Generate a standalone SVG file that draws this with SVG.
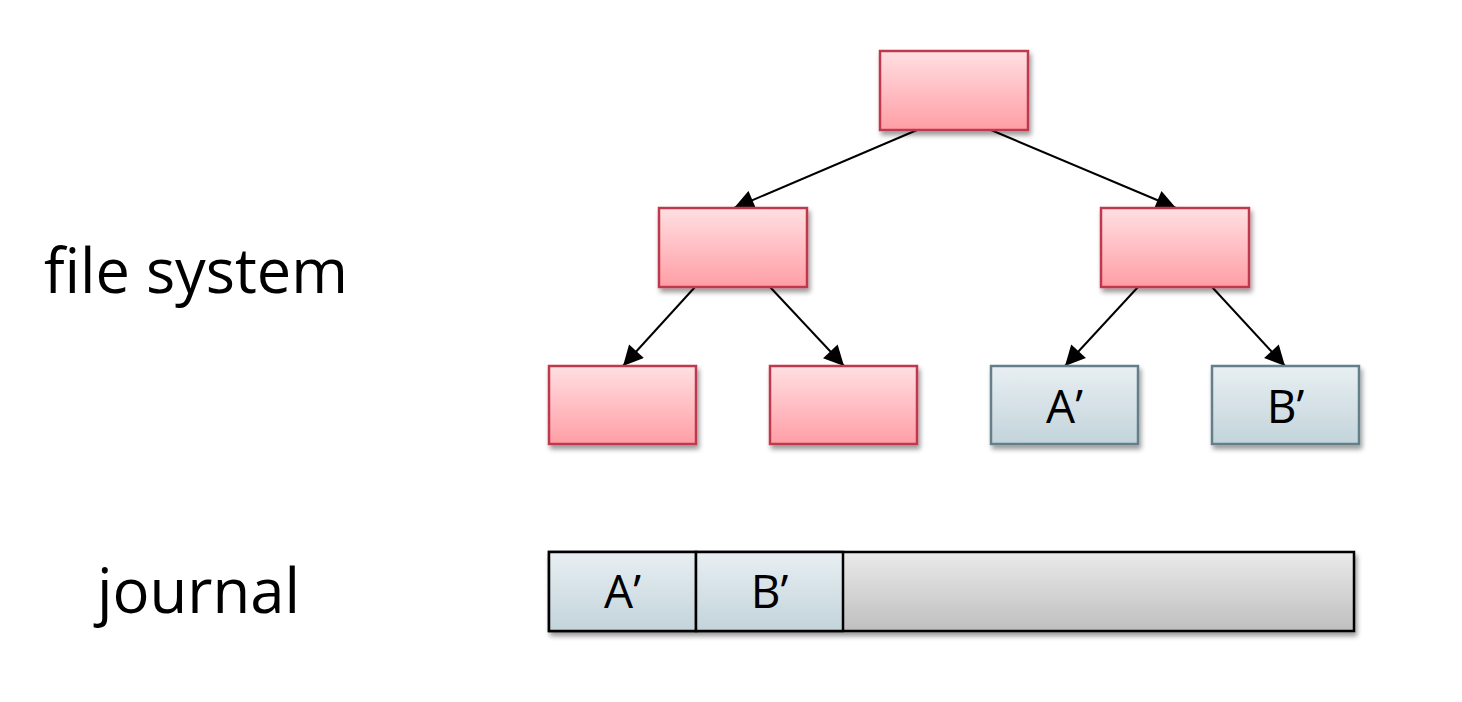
<svg xmlns="http://www.w3.org/2000/svg" width="1462" height="702" viewBox="0 0 1462 702">
<style>
.red{fill:url(#gr);stroke:#c0394d;stroke-width:2.5;filter:url(#sh)}
.blue{fill:url(#gb);stroke:#637f89;stroke-width:2.5;filter:url(#sh)}
.jb{fill:url(#gb);stroke:#000;stroke-width:2.5}
.lbl{font-family:"Open Sans","Liberation Sans",sans-serif;font-size:46px;fill:#000;text-anchor:middle}
.big{font-family:"Open Sans","Liberation Sans",sans-serif;font-size:62px;fill:#000}
.con line{stroke:#000;stroke-width:2}
</style>
<defs>
<linearGradient id="gr" x1="0" y1="0" x2="0" y2="1"><stop offset="0" stop-color="#ffdfe2"/><stop offset="1" stop-color="#ff9ea5"/></linearGradient>
<linearGradient id="gb" x1="0" y1="0" x2="0" y2="1"><stop offset="0" stop-color="#e8eff2"/><stop offset="1" stop-color="#c3d4db"/></linearGradient>
<linearGradient id="gg" x1="0" y1="0" x2="0" y2="1"><stop offset="0" stop-color="#eaeaea"/><stop offset="1" stop-color="#bfbfbf"/></linearGradient>
<filter id="sh" x="-10%" y="-10%" width="130%" height="140%"><feGaussianBlur in="SourceAlpha" stdDeviation="2.5"/><feOffset dx="2" dy="4" result="b"/><feComponentTransfer><feFuncA type="linear" slope="0.4"/></feComponentTransfer><feMerge><feMergeNode/><feMergeNode in="SourceGraphic"/></feMerge></filter>
<marker id="ahb" viewBox="0 0 10 10" refX="10" refY="5" markerWidth="22" markerHeight="20" markerUnits="userSpaceOnUse" orient="auto"><path d="M0,0L10,5L0,10z" fill="#000"/></marker>
</defs>
<rect width="1462" height="702" fill="#fff"/>
<text class="big" x="44" y="293" textLength="304" lengthAdjust="spacingAndGlyphs">file system</text>
<text class="big" x="97" y="613" textLength="203" lengthAdjust="spacingAndGlyphs">journal</text>
<g class="con">
<line x1="917" y1="130" x2="734" y2="208" marker-end="url(#ahb)"/>
<line x1="991" y1="130" x2="1176" y2="208" marker-end="url(#ahb)"/>
<line x1="695" y1="287" x2="623" y2="366" marker-end="url(#ahb)"/>
<line x1="770" y1="287" x2="844" y2="366" marker-end="url(#ahb)"/>
<line x1="1138" y1="287" x2="1065" y2="366" marker-end="url(#ahb)"/>
<line x1="1212" y1="287" x2="1285" y2="366" marker-end="url(#ahb)"/>
</g>
<g id="root"><rect class="red" x="880" y="51" width="148" height="79"/></g>
<g id="midL"><rect class="red" x="659" y="208" width="148" height="79"/></g>
<g id="midR"><rect class="red" x="1101" y="208" width="148" height="79"/></g>
<g id="leaf1"><rect class="red" x="549" y="366" width="147" height="78"/></g>
<g id="leaf2"><rect class="red" x="770" y="366" width="147" height="78"/></g>
<g id="leafA"><rect class="blue" x="991" y="366" width="147" height="78"/><text class="lbl" x="1064.5" y="423">A’</text></g>
<g id="leafB"><rect class="blue" x="1212" y="366" width="147" height="78"/><text class="lbl" x="1285.5" y="423">B’</text></g>
<g id="journal">
<rect x="549" y="552" width="805" height="79" fill="url(#gg)" stroke="#000" stroke-width="2.5" filter="url(#sh)"/>
<rect class="jb" x="549" y="552" width="147" height="79"/>
<rect class="jb" x="696" y="552" width="147" height="79"/>
<text class="lbl" x="622.5" y="608">A’</text>
<text class="lbl" x="769.5" y="608">B’</text>
</g>
</svg>
